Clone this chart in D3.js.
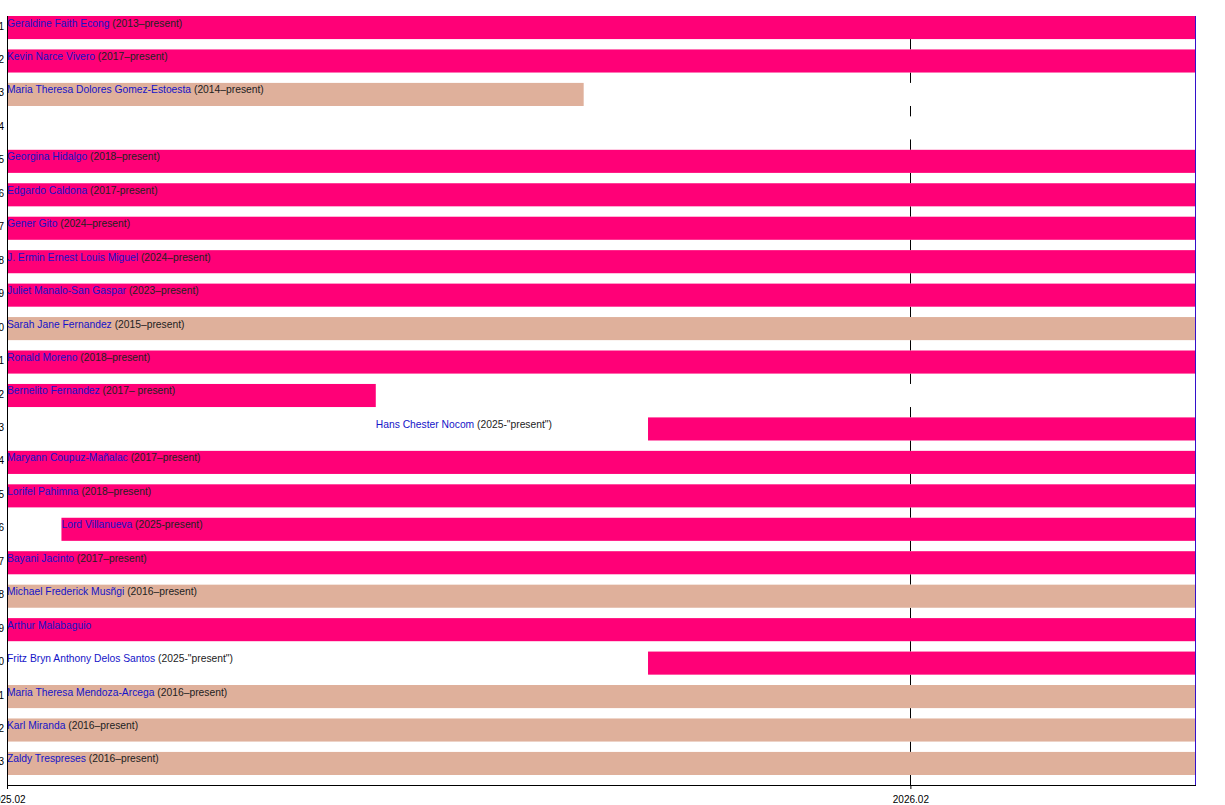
<!DOCTYPE html>
<html>
<head>
<meta charset="utf-8">
<script src="https://cdn.jsdelivr.net/npm/d3@7.9.0/dist/d3.min.js"></script>
<style>
  html, body { margin: 0; padding: 0; background: #fff; }
  svg { display: block; font-family: "Liberation Sans", Arial, sans-serif; }
</style>
</head>
<body>
<div id="chart"></div>
<script>
// Row numbers on the left axis
const rowIds = d3.range(1, 24).map(String);

const names = [
  "Geraldine Faith Econg", "Kevin Narce Vivero", "Maria Theresa Dolores Gomez-Estoesta", "",
  "Georgina Hidalgo", "Edgardo Caldona", "Gener Gito", "J. Ermin Ernest Louis Miguel",
  "Juliet Manalo-San Gaspar", "Sarah Jane Fernandez", "Ronald Moreno", "Bernelito Fernandez",
  "Hans Chester Nocom", "Maryann Coupuz-Mañalac", "Lorifel Pahimna", "Lord Villanueva",
  "Bayani Jacinto", "Michael Frederick Musñgi", "Arthur Malabaguio", "Fritz Bryn Anthony Delos Santos",
  "Maria Theresa Mendoza-Arcega", "Karl Miranda", "Zaldy Trespreses"
];

const terms = [
  "(2013–present)", "(2017–present)", "(2014–present)", "",
  "(2018–present)", "(2017-present)", "(2024–present)", "(2024–present)",
  "(2023–present)", "(2015–present)", "(2018–present)", "(2017– present)",
  "(2025-\"present\")", "(2017–present)", "(2018–present)", "(2025-present)",
  "(2017–present)", "(2016–present)", "", "(2025-\"present\")",
  "(2016–present)", "(2016–present)", "(2016–present)"
];

// bar group (decides colour); null = no bar
const groups = [
  "A", "A", "B", null,
  "A", "A", "A", "A",
  "A", "B", "A", "A",
  "A", "A", "A", "A",
  "A", "B", "A", "A",
  "B", "B", "B"
];

// null start = start of period, null end = end of period
const starts = [
  null, null, null, null,
  null, null, null, null,
  null, null, null, null,
  "2025-10-18", null, null, "2025-02-23",
  null, null, null, "2025-10-18",
  null, null, null
];
const ends = [
  null, null, "2025-09-22", null,
  null, null, null, null,
  null, null, null, "2025-06-30",
  null, null, null, null,
  null, null, null, null,
  null, null, null
];
// where each label begins (null = start of period)
const labelAt = [
  null, null, null, null,
  null, null, null, null,
  null, null, null, null,
  "2025-06-30", null, null, "2025-02-23",
  null, null, null, null,
  null, null, null
];

const periodStart = "2025-02-01";
const periodEnd = "2026-05-27";
const tickDates = ["2025-02-01", "2026-02-01"];

const parse = d3.timeParse("%Y-%m-%d");
const data = rowIds.map((id, i) => ({
  id,
  name: names[i],
  term: terms[i],
  group: groups[i],
  start: parse(starts[i] || periodStart),
  end: parse(ends[i] || periodEnd),
  label: parse(labelAt[i] || periodStart)
}));

const width = 1225, height = 805;
const plotLeft = 7, plotRight = 1195, plotTop = 16, barsBottom = 775, axisY = 785;

const x = d3.scaleTime()
  .domain([parse(periodStart), parse(periodEnd)])
  .range([plotLeft, plotRight]);

const y = d3.scaleBand()
  .domain(rowIds)
  .range([plotTop, barsBottom])
  .paddingInner(0.31)
  .paddingOuter(0);

const color = d3.scaleOrdinal().domain(["A", "B"]).range(["#ff0077", "#dfb09b"]);

const svg = d3.select("#chart").append("svg")
  .attr("width", width)
  .attr("height", height);

// grid line at each tick (hidden inside row bands)
svg.append("g")
  .selectAll("line")
  .data(tickDates.slice(1).map(parse))
  .join("line")
  .attr("x1", d => Math.round(x(d)) + 0.5).attr("x2", d => Math.round(x(d)) + 0.5)
  .attr("y1", plotTop).attr("y2", axisY)
  .attr("stroke", "#000")
  .attr("stroke-width", 1);

// white row backgrounds
svg.append("g")
  .selectAll("rect")
  .data(data)
  .join("rect")
  .attr("x", plotLeft)
  .attr("y", d => y(d.id))
  .attr("width", plotRight - plotLeft)
  .attr("height", y.bandwidth())
  .attr("fill", "#fff");

// bars
svg.append("g")
  .selectAll("rect")
  .data(data.filter(d => d.group))
  .join("rect")
  .attr("x", d => x(d.start))
  .attr("y", d => y(d.id))
  .attr("width", d => x(d.end) - x(d.start))
  .attr("height", y.bandwidth())
  .attr("fill", d => color(d.group));

// labels
const labels = svg.append("g")
  .attr("font-size", 10.3)
  .selectAll("text")
  .data(data.filter(d => d.name))
  .join("text")
  .attr("x", d => x(d.label))
  .attr("y", d => y(d.id) + 10.5);

labels.append("tspan")
  .attr("fill", "#1414c8")
  .text(d => d.name);

labels.append("tspan")
  .attr("fill", "#222")
  .text(d => d.term ? " " + d.term : "");

// left axis (row numbers, clipped by the page edge)
const yAxis = svg.append("g")
  .attr("transform", `translate(${plotLeft},0)`)
  .call(d3.axisLeft(y).tickSize(0).tickPadding(3));
yAxis.select(".domain").remove();
yAxis.selectAll("text")
  .attr("font-family", "Liberation Sans, Arial, sans-serif")
  .attr("font-size", 10)
  .attr("fill", "#000")
  .attr("dy", "0.2em");

svg.append("line")
  .attr("x1", plotLeft + 0.5).attr("x2", plotLeft + 0.5)
  .attr("y1", plotTop).attr("y2", axisY)
  .attr("stroke", "#000");

// right edge
svg.append("line")
  .attr("x1", plotRight + 0.5).attr("x2", plotRight + 0.5)
  .attr("y1", plotTop).attr("y2", axisY)
  .attr("stroke", "#3311cc");

// bottom axis
const xAxis = svg.append("g")
  .attr("transform", `translate(0,${axisY})`)
  .call(d3.axisBottom(x)
    .tickValues(tickDates.map(parse))
    .tickFormat(d3.timeFormat("%Y.%m"))
    .tickSize(4)
    .tickSizeOuter(0)
    .tickPadding(7));
xAxis.select(".domain")
  .attr("d", `M${plotLeft},0.5H${plotRight + 1}`);
xAxis.selectAll("text")
  .attr("font-family", "Liberation Sans, Arial, sans-serif")
  .attr("font-size", 10)
  .attr("fill", "#000");
</script>
</body>
</html>
